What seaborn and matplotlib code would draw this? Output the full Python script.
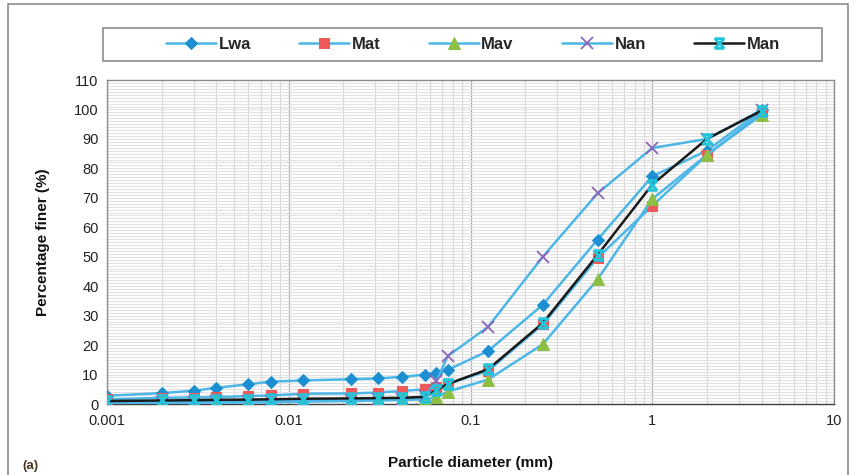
import numpy as np
import matplotlib
matplotlib.use("Agg")
import matplotlib.pyplot as plt
from matplotlib.path import Path
from matplotlib.patches import Rectangle
from matplotlib.ticker import FixedLocator, NullFormatter, MultipleLocator
import seaborn as sns

# Sieve / hydrometer particle sizes (mm)
diameter = [0.001, 0.002, 0.003, 0.004, 0.006, 0.008, 0.012, 0.022, 0.031,
            0.042, 0.056, 0.065, 0.075, 0.125, 0.25, 0.5, 1, 2, 4]

# Percentage finer for each sample
lwa = [2.8, 3.7, 4.5, 5.5, 6.7, 7.6, 8.0, 8.4, 8.7, 9.2, 10.0, 10.6, 11.6,
       18.0, 33.7, 55.8, 77.3, 86.0, 99.8]
mat = [1.6, 2.1, 2.2, 2.3, 2.7, 2.9, 3.5, 3.6, 3.9, 4.4, 5.0, 5.8, 6.8,
       11.3, 27.0, 49.6, 67.3, 84.5, 99.0]
mav = [0.3, 0.4, 0.5, 0.5, 0.5, 0.6, 0.8, 1.0, 1.2, 1.4, 1.6, 2.3, 4.2,
       8.3, 20.3, 42.3, 69.6, 84.6, 98.2]
nan = [0.6, 0.7, 0.8, 0.9, 1.0, 1.1, 1.3, 1.5, 1.6, 1.8, 2.6, 7.8, 16.3,
       26.2, 50.0, 71.5, 86.9, 90.0, 99.8]
man = [1.0, 1.2, 1.3, 1.4, 1.5, 1.6, 1.8, 1.9, 2.0, 2.1, 2.4, 4.7, 6.8,
       11.8, 27.5, 50.6, 74.5, 90.0, 99.6]

series_names = ["Lwa", "Mat", "Mav", "Nan", "Man"]
x_ticks = [0.001, 0.01, 0.1, 1, 10]
x_tick_labels = ["0.001", "0.01", "0.1", "1", "10"]
y_ticks = list(range(0, 111, 10))

sns.set_theme(style="white")
plt.rcParams["font.family"] = ["Liberation Sans", "DejaVu Sans"]

# Hourglass-style star marker used for the Man series
hourglass = Path(
    [(-1, -1), (1, 1), (-1, 1), (1, -1), (-1, 1), (1, 1), (-1, -1), (1, -1)],
    [Path.MOVETO, Path.LINETO, Path.MOVETO, Path.LINETO,
     Path.MOVETO, Path.LINETO, Path.MOVETO, Path.LINETO],
)

line_blue = "#4cb6e6"
styles = {
    "Lwa": dict(color=line_blue, marker="D", markersize=6.5,
                markerfacecolor="#1c8fd2", markeredgecolor="#1c8fd2"),
    "Mat": dict(color=line_blue, marker="s", markersize=6.5,
                markerfacecolor="#ee5a5a", markeredgecolor="#ee5a5a"),
    "Mav": dict(color=line_blue, marker="^", markersize=8,
                markerfacecolor="#8dbf45", markeredgecolor="#8dbf45"),
    "Nan": dict(color=line_blue, marker="x", markersize=8,
                markeredgecolor="#8e65b8", markeredgewidth=1.3),
    "Man": dict(color="#1a1a1a", marker=hourglass, markersize=7,
                markerfacecolor="none", markeredgecolor="#22c4dc",
                markeredgewidth=2.0),
}
values = {"Lwa": lwa, "Mat": mat, "Mav": mav, "Nan": nan, "Man": man}

fig = plt.figure(figsize=(8.56, 4.75), dpi=100)
ax = fig.add_axes([107 / 856, 1 - 404 / 475, (834 - 107) / 856, (404 - 80) / 475])

handles = []
for i, name in enumerate(series_names):
    sns.lineplot(x=diameter, y=values[name], ax=ax, sort=False, linewidth=1.8,
                 label=name, zorder=3 + i, **styles[name])
    handles.append(ax.get_lines()[-1])
ax.get_legend().remove()

ax.set_xscale("log")
ax.set_xlim(0.001, 10)
ax.set_ylim(0, 110)
ax.xaxis.set_major_locator(FixedLocator(x_ticks))
ax.set_xticklabels(x_tick_labels)
ax.xaxis.set_minor_locator(FixedLocator(
    [m * 10.0 ** e for e in range(-3, 1) for m in range(2, 10)]))
ax.xaxis.set_minor_formatter(NullFormatter())
ax.set_yticks(y_ticks)
ax.yaxis.set_minor_locator(MultipleLocator(1))

ax.grid(which="minor", axis="y", color="#e2e2e2", linewidth=0.8, zorder=0)
ax.grid(which="minor", axis="x", color="#d6d6d6", linewidth=0.8, zorder=0)
ax.grid(which="major", axis="x", color="#a8a8a8", linewidth=0.9, zorder=0)
ax.grid(which="major", axis="y", color="#e2e2e2", linewidth=0.8, zorder=0)
ax.set_axisbelow(True)

for side in ["left", "bottom", "top", "right"]:
    ax.spines[side].set_visible(True)
    ax.spines[side].set_color("#8c8c8c")
    ax.spines[side].set_linewidth(1.0)
ax.spines["bottom"].set_color("#404040")

ax.tick_params(axis="x", which="major", direction="out", length=4, width=1,
               color="#404040", labelsize=10.5, pad=3, labelcolor="#222222")
ax.tick_params(axis="x", which="minor", length=0)
ax.tick_params(axis="y", which="both", length=0, labelsize=10.5, pad=6,
               labelcolor="#222222")

ax.set_xlabel("Particle diameter (mm)", fontsize=11, fontweight="bold",
              labelpad=20, color="#111111")
ax.set_ylabel("Percentage finer (%)", fontsize=11, fontweight="bold",
              labelpad=17, color="#111111")

# Legend box across the top, entries centred inside it
fig.patches.append(Rectangle((103 / 856, 1 - 61 / 475), (822 - 103) / 856, 33 / 475,
                             transform=fig.transFigure, fill=False,
                             edgecolor="#8c8c8c", linewidth=1.2))
leg = fig.legend(handles=handles, labels=series_names, ncol=5,
                 loc="center", bbox_to_anchor=(473 / 856, 1 - 44.5 / 475),
                 frameon=False, borderaxespad=0,
                 handlelength=3.0, handletextpad=0.15, columnspacing=2.9,
                 prop={"weight": "bold", "size": 12})

# Chart-area border
fig.patches.append(Rectangle((8 / 856, -0.02), (848 - 8) / 856, 1.02 - 4 / 475,
                             transform=fig.transFigure, fill=False,
                             edgecolor="#8c8c8c", linewidth=1.2))
fig.text(22 / 856, 1 - 466 / 475, "(a)", fontsize=9.5, fontweight="bold",
         color="#4a3520", va="center", ha="left")

fig.savefig("out.png", dpi=100)
